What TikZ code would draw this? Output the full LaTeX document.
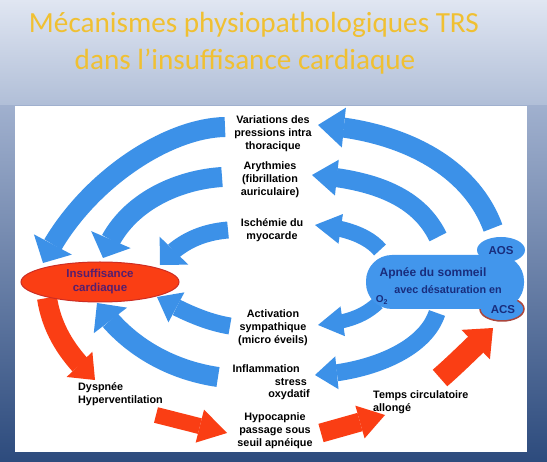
\documentclass[tikz,border=0pt]{standalone}
\usepackage{fontspec}
\setmainfont{Liberation Sans}
\newfontfamily\titlefont{Carlito}
\usetikzlibrary{arrows.meta,bending,shapes.geometric}
\definecolor{bgtop}{RGB}{224,230,242}
\definecolor{bgmid}{RGB}{176,190,215}
\definecolor{bgmidb}{RGB}{160,176,206}
\definecolor{bgbot}{RGB}{45,75,125}
\definecolor{gold}{RGB}{240,192,50}
\definecolor{arrblue}{RGB}{60,145,232}
\definecolor{cloudblue}{RGB}{66,150,236}
\definecolor{arrred}{RGB}{250,62,20}
\definecolor{navy}{RGB}{25,45,125}
\definecolor{purp}{RGB}{85,30,110}
\definecolor{ellborder}{RGB}{205,45,35}
\definecolor{acsborder}{RGB}{170,70,60}
\begin{document}
\begin{tikzpicture}[x=1pt,y=-1pt,
  lbl/.style={font={\bfseries\fontsize{10.8pt}{13pt}\selectfont}, align=center, inner sep=0pt},
  cloudtxt/.style={font={\bfseries\fontsize{#1}{14pt}\selectfont}, text=navy, inner sep=0pt},
  titletxt/.style={font={\titlefont\fontsize{29.2pt}{35pt}\selectfont}, text=gold, anchor=base, inner sep=0pt},
  barrow/.style={draw=arrblue, line width=#1},
  rarrow/.style={draw=arrred, line width=#1},
  tipw/.style 2 args={-{Triangle[width=#1,length=#2,line width=0pt]}}
]
\useasboundingbox (0,0) rectangle (547,462);
% background
\fill[top color=bgtop, bottom color=bgmid] (0,0) rectangle (547,106);
\fill[top color=bgmidb, bottom color=bgbot] (0,106) rectangle (547,462);
\fill[white] (15,106) rectangle (527,452);
% title
\node[titletxt] (t1) at (254,33) {Mécanismes physiopathologiques TRS};
\node[titletxt] (t2) at (245,70) {dans l’insuffisance cardiaque};

% labels
\node[lbl] (var) at (273,134) {Variations des\\pressions intra\\thoracique};
\node[lbl] (ary) at (270,180) {Arythmies\\(fibrillation\\auriculaire)};
\node[lbl] (isc) at (272,230) {Ischémie du\\myocarde};
\node[lbl] (act) at (273,328) {Activation\\sympathique\\(micro éveils)};
\node[lbl, anchor=east] (inf1) at (300,369) {Inflammation};
\node[lbl, anchor=east] (inf2) at (307,382) {stress};
\node[lbl, anchor=east] (inf3) at (310,395) {oxydatif};
\node[lbl] (hyp) at (275,431) {Hypocapnie\\passage sous\\seuil apnéique};
\node[lbl, anchor=west, align=left] (dys) at (78,394) {Dyspnée\\Hyperventilation};
\node[lbl, anchor=west, align=left] (tmp) at (373,402) {Temps circulatoire\\allongé};

% blue arrows towards insuffisance cardiaque
\draw[barrow=20pt, tipw={43pt}{21pt}] (225,127) .. controls (165,128) and (80,185) .. (43,263);
\draw[barrow=20pt, tipw={43pt}{20pt}] (222,177) .. controls (175,180) and (120,205) .. (103,258);
\draw[barrow=17pt, tipw={40pt}{20pt}] (228,230) .. controls (205,232) and (180,240) .. (160,265);
\draw[barrow=17pt, tipw={34pt}{22pt}] (230,326) .. controls (205,322) and (180,310) .. (157,297);
\draw[barrow=20pt, tipw={42pt}{22pt}] (218,377) .. controls (170,370) and (125,345) .. (97,303);
% blue arrows from apnee
\draw[barrow=20pt, tipw={40pt}{26pt}] (493,228) .. controls (470,165) and (400,130) .. (318,125);
\draw[barrow=19pt, tipw={36pt}{25pt}] (438,237) .. controls (420,200) and (380,180) .. (312,175);
\draw[barrow=16pt, tipw={30pt}{26pt}] (380,250) .. controls (370,238) and (350,228) .. (315,225);
\draw[barrow=14pt, tipw={30pt}{25pt}] (378,303) .. controls (365,315) and (350,322) .. (318,325);
\draw[barrow=17pt, tipw={33pt}{22pt}] (437,313) .. controls (425,350) and (370,372) .. (315,375);
% red arrows
\draw[rarrow=20pt, tipw={36pt}{22pt}] (47,298) .. controls (52,330) and (68,355) .. (95,380);
\draw[rarrow=16pt, tipw={34pt}{28pt}] (156,415) -- (227,433);
\draw[rarrow=19pt, tipw={34pt}{26pt}] (321,433) -- (385,415);
\draw[rarrow=22pt, tipw={41pt}{24pt}] (440,378) .. controls (455,365) and (470,350) .. (493,328);

% insuffisance cardiaque
\node[ellipse, fill=arrred, draw=ellborder, line width=1pt, minimum width=158pt, minimum height=40pt, inner sep=0pt,
      font={\bfseries\fontsize{11.5pt}{14pt}\selectfont}, text=purp, align=center] (ic) at (100,282) {Insuffisance\\cardiaque};

% apnee cloud
\fill[cloudblue, draw=acsborder, line width=1.5pt] (502,309) ellipse [x radius=22, y radius=12];
\fill[cloudblue, rounded corners=26pt] (366,255) rectangle (524,309);
\fill[cloudblue] (501,250) ellipse [x radius=24, y radius=13];
\node[cloudtxt=12pt] (apn) at (433,273) {Apnée du sommeil};
\node[cloudtxt=10.8pt] (des) at (448,290) {avec désaturation en};
\node[cloudtxt=10pt] (o2) at (382,300) {O\textsubscript{2}};
\node[cloudtxt=11.5pt] (aos) at (501,251) {AOS};
\node[cloudtxt=11.5pt] (acs) at (503,310) {ACS};
\end{tikzpicture}
\end{document}
